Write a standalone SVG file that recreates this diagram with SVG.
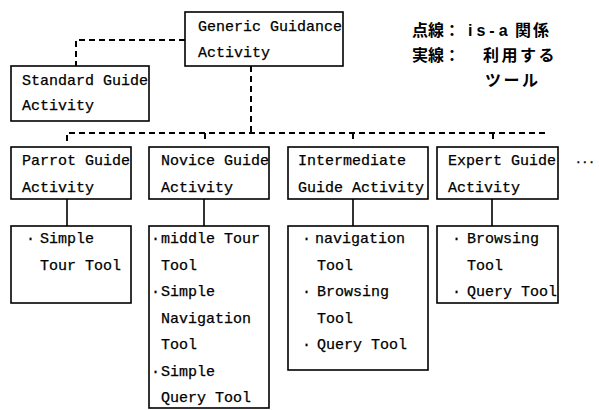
<svg xmlns="http://www.w3.org/2000/svg" width="599" height="410" viewBox="0 0 599 410">
<style>
.box{fill:#fff;stroke:#000;stroke-width:1.6}
.t{font-family:"Liberation Mono",monospace;font-size:15px;fill:#000;stroke:#000;stroke-width:0.25}
.j{font-family:"Liberation Sans","Noto Sans CJK JP",sans-serif;font-size:16px;font-weight:bold;fill:#000}
.dash{fill:none;stroke:#000;stroke-width:2;stroke-dasharray:6 4}
.solid{fill:none;stroke:#000;stroke-width:1.6}
</style>
<rect width="599" height="410" fill="#fff"/>
<g id="connectors">
<path class="dash" d="M185 40 H76 V66"/>
<path class="dash" d="M251 66 V133"/>
<path class="dash" d="M67 141 V133 H548"/>
<path class="dash" d="M205 133 V141 M353 133 V141 M493 133 V141" stroke-dasharray="3 3"/>
<path class="solid" d="M67 199 V226 M204 199 V226 M353 199 V226 M492 199 V226"/>
</g>
<g id="generic">
<rect class="box" x="185" y="12" width="158" height="54"/>
<text class="t" x="198" y="31">Generic Guidance</text>
<text class="t" x="198" y="57">Activity</text>
</g>
<g id="standard">
<rect class="box" x="11" y="66" width="138" height="55"/>
<text class="t" x="22" y="85">Standard Guide</text>
<text class="t" x="22" y="110">Activity</text>
</g>
<g id="parrot">
<rect class="box" x="11" y="147" width="120" height="52"/>
<text class="t" x="22" y="165">Parrot Guide</text>
<text class="t" x="22" y="192">Activity</text>
</g>
<g id="novice">
<rect class="box" x="149" y="147" width="120" height="52"/>
<text class="t" x="161" y="165">Novice Guide</text>
<text class="t" x="161" y="192">Activity</text>
</g>
<g id="intermediate">
<rect class="box" x="288" y="147" width="140" height="52"/>
<text class="t" x="298" y="165">Intermediate</text>
<text class="t" x="298" y="192">Guide Activity</text>
</g>
<g id="expert">
<rect class="box" x="437" y="147" width="121" height="52"/>
<text class="t" x="448" y="165">Expert Guide</text>
<text class="t" x="448" y="192">Activity</text>
</g>
<g id="parrot-tools">
<rect class="box" x="11" y="226" width="120" height="77"/>
<text class="t" y="243"><tspan x="26">·</tspan><tspan x="40">Simple</tspan></text>
<text class="t" x="40" y="269.5">Tour Tool</text>
</g>
<g id="novice-tools">
<rect class="box" x="149" y="226" width="120" height="182"/>
<text class="t" y="243"><tspan x="151">·</tspan><tspan x="161">middle Tour</tspan></text>
<text class="t" x="161" y="269.5">Tool</text>
<text class="t" y="296"><tspan x="151">·</tspan><tspan x="161">Simple</tspan></text>
<text class="t" x="161" y="322.5">Navigation</text>
<text class="t" x="161" y="349">Tool</text>
<text class="t" y="375.5"><tspan x="151">·</tspan><tspan x="161">Simple</tspan></text>
<text class="t" x="161" y="402">Query Tool</text>
</g>
<g id="intermediate-tools">
<rect class="box" x="288" y="226" width="140" height="144"/>
<text class="t" y="243"><tspan x="302">·</tspan><tspan x="315">navigation</tspan></text>
<text class="t" x="317" y="269.5">Tool</text>
<text class="t" y="296"><tspan x="302">·</tspan><tspan x="317">Browsing</tspan></text>
<text class="t" x="317" y="322.5">Tool</text>
<text class="t" y="349"><tspan x="302">·</tspan><tspan x="317">Query Tool</tspan></text>
</g>
<g id="expert-tools">
<rect class="box" x="437" y="226" width="121" height="77"/>
<text class="t" y="243"><tspan x="452">·</tspan><tspan x="467">Browsing</tspan></text>
<text class="t" x="467" y="269.5">Tool</text>
<text class="t" y="296"><tspan x="452">·</tspan><tspan x="467">Query Tool</tspan></text>
</g>
<text class="t" x="575" y="163" style="font-size:11px;font-weight:bold">...</text>
<g id="legend">
<text class="j" y="36"><tspan x="412">点線：</tspan><tspan x="468" letter-spacing="4">is-a</tspan><tspan x="515" letter-spacing="2">関係</tspan></text>
<text class="j" y="61"><tspan x="412">実線：</tspan><tspan x="483" letter-spacing="2.5">利用する</tspan></text>
<text class="j" x="485" y="86" letter-spacing="2.5">ツール</text>
</g>
</svg>
